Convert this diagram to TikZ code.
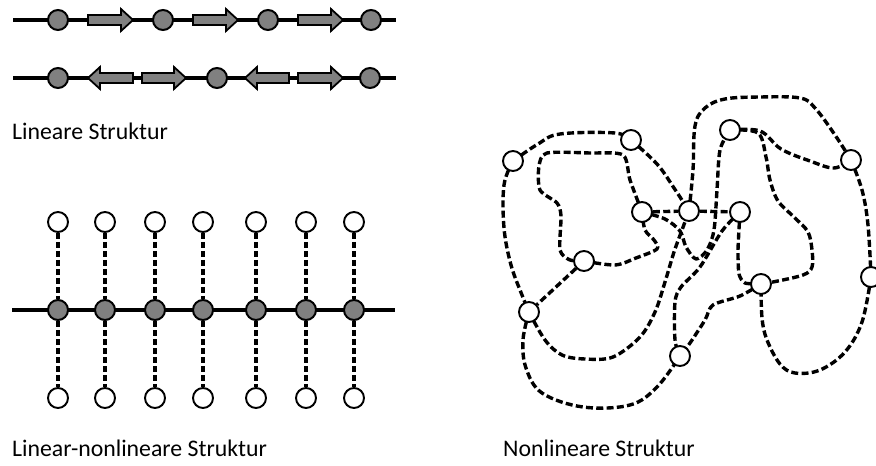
\documentclass[tikz,border=0pt]{standalone}
\usepackage{fontspec}
\setmainfont{Carlito}
\pgfdeclarelayer{paper}
\pgfdeclarelayer{bg}
\pgfsetlayers{paper,bg,main}
\definecolor{nodegray}{RGB}{128,128,128}
\tikzset{
  gnode/.style={circle, draw=black, line width=2pt, fill=nodegray, minimum size=20pt, inner sep=0pt},
  wnode/.style={circle, draw=black, line width=1.9pt, fill=white, minimum size=20pt, inner sep=0pt},
  chainline/.style={line width=3.8pt, black},
  linkline/.style={line width=3.2pt, dash pattern=on 6pt off 3pt},
  looseline/.style={line width=3.4pt, dash pattern=on 7pt off 3.3pt, line join=round},
  blockarrow/.style={draw=black, line width=1.8pt, fill=nodegray, line join=miter},
  caption/.style={anchor=base west, inner sep=0pt, font=\fontsize{23.8}{28}\selectfont}
}
\newcommand{\rarr}[3]{\draw[blockarrow] (#1,#3-5) -- (#2-12,#3-5) -- (#2-12,#3-11) -- (#2,#3) -- (#2-12,#3+11) -- (#2-12,#3+5) -- (#1,#3+5) -- cycle;}
\newcommand{\larr}[3]{\draw[blockarrow] (#1,#3) -- (#1+12,#3-11) -- (#1+12,#3-5) -- (#2,#3-5) -- (#2,#3+5) -- (#1+12,#3+5) -- (#1+12,#3+11) -- cycle;}
\begin{document}
\begin{tikzpicture}[x=1pt,y=-1pt]
\useasboundingbox (0,0) rectangle (876,466);
\begin{pgfonlayer}{paper}
\fill[white] (0,0) rectangle (876,466);
\end{pgfonlayer}

% ---------- linear rows ----------
\coordinate (r1s) at (13,20); \coordinate (r1e) at (396,20);
\coordinate (r2s) at (13,78); \coordinate (r2e) at (396,78);
\draw[chainline] (r1s) -- (r1e);
\draw[chainline] (r2s) -- (r2e);
\foreach \x [count=\i] in {58,163,268,371} \node[gnode] (ra\i) at (\x,20) {};
\rarr{88}{133}{20}
\rarr{193}{238}{20}
\rarr{298}{343}{20}
\foreach \x [count=\i] in {58,217,370} \node[gnode] (rb\i) at (\x,78) {};
\larr{88}{133}{78}
\rarr{142}{186}{78}
\larr{245}{289}{78}
\rarr{298}{343}{78}
\node[caption] (t1) at (12,139) {Lineare Struktur};

% ---------- linear-nonlinear ----------
\coordinate (ms) at (12,310); \coordinate (me) at (395,310);
\draw[chainline] (ms) -- (me);
\foreach \x [count=\i] in {58,105,155,203,256,306,354} {
  \node[gnode] (m\i) at (\x,310) {};
  \node[wnode] (u\i) at (\x,222) {};
  \node[wnode] (d\i) at (\x,398) {};
  \begin{pgfonlayer}{bg}
    \draw[linkline] (u\i) -- (m\i);
    \draw[linkline] (m\i) -- (d\i);
  \end{pgfonlayer}
}
\node[caption] (t2) at (12,456) {Linear-nonlineare Struktur};

% ---------- nonlinear ----------
\node[wnode] (A) at (513,161) {};
\node[wnode] (B) at (631,140) {};
\node[wnode] (C) at (730,130) {};
\node[wnode] (D) at (851,160) {};
\node[wnode] (E) at (642,212) {};
\node[wnode] (F) at (689,211) {};
\node[wnode] (G) at (740,212) {};
\node[wnode] (H) at (584,261) {};
\node[wnode] (I) at (529,312) {};
\node[wnode] (J) at (761,284) {};
\node[wnode] (K) at (871,277) {};
\node[wnode] (L) at (680,356) {};
\begin{pgfonlayer}{bg}
\draw[looseline] plot[smooth, tension=0.6] coordinates {(A.center) (538,144) (560,134) (615,133) (B.center)};
\draw[looseline] plot[smooth, tension=0.6] coordinates {(A.center) (504,185) (504,228) (511,265) (522,295) (I.center)};
\draw[looseline] plot[smooth, tension=0.6] coordinates {(B.center) (657,164) (674,188) (F.center)};
\draw[looseline] (E) -- (F);
\draw[looseline] (F) -- (G);
\draw[looseline] plot[smooth, tension=0.45] coordinates {(E.center) (630,180) (623,155) (590,153) (547,153) (539,166) (540,190) (557,203) (561,216) (560,250) (570,260) (H.center)};
\draw[looseline] plot[smooth, tension=0.5] coordinates {(H.center) (615,265) (636,258) (657,249) (654,240) (645,230) (E.center)};
\draw[looseline] (H) -- (I);
\draw[looseline] plot[smooth, tension=0.6] coordinates {(I.center) (523,340) (526,368) (542,393) (583,407) (630,405) (657,387) (L.center)};
\draw[looseline] plot[smooth, tension=0.55] coordinates {(I.center) (545,340) (562,355) (585,359) (613,357) (640,337) (655,312) (665,282) (674,252) (682,230) (F.center)};
\draw[looseline] plot[smooth, tension=0.5] coordinates {(E.center) (665,219) (680,231) (686,247) (696,259) (707,250) (714,230) (717,190) (720,150) (C.center)};
\draw[looseline] plot[smooth, tension=0.6] coordinates {(F.center) (693,170) (695,126) (705,108) (725,99) (760,97) (800,98) (815,108) (835,135) (D.center)};
\draw[looseline] plot[smooth, tension=0.6] coordinates {(C.center) (760,131) (781,149) (810,161) (834,168) (D.center)};
\draw[looseline] plot[smooth, tension=0.55] coordinates {(C.center) (758,133) (766,157) (770,180) (778,201) (795,218) (808,232) (812,250) (812,267) (803,275) (773,282) (J.center)};
\draw[looseline] plot[smooth, tension=0.6] coordinates {(D.center) (862,190) (868,225) (K.center)};
\draw[looseline] plot[smooth, tension=0.6] coordinates {(K.center) (862,322) (845,352) (820,370) (795,373) (780,364) (767,340) (762,318) (J.center)};
\draw[looseline] plot[smooth, tension=0.4] coordinates {(G.center) (738,250) (739,274) (745,283) (J.center)};
\draw[looseline] plot[smooth, tension=0.5] coordinates {(J.center) (740,296) (713,305) (705,320) (690,343) (L.center)};
\draw[looseline] plot[smooth, tension=0.5] coordinates {(G.center) (722,231) (700,267) (681,287) (675,302) (675,340) (L.center)};
\end{pgfonlayer}
\node[caption] (t3) at (503,456) {Nonlineare Struktur};
\end{tikzpicture}
\end{document}
